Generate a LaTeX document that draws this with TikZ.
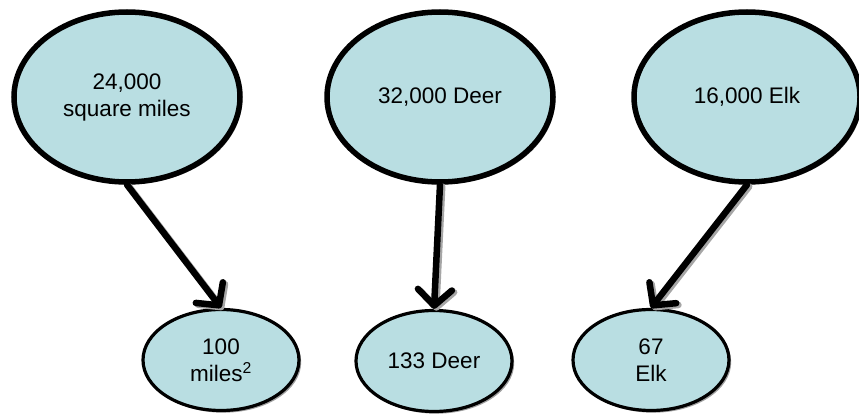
\documentclass[tikz,border=0pt]{standalone}
\usepackage{fontspec}
\setmainfont{Liberation Sans}
\usetikzlibrary{shapes.geometric,arrows.meta,shadows}
\definecolor{nodefill}{HTML}{B9DEE2}
\begin{document}
\begin{tikzpicture}[x=1pt,y=-1pt,
  bubble/.style={ellipse, draw=black, fill=nodefill, inner sep=0pt, align=center,
    font=\fontsize{22.5}{27}\selectfont,
    drop shadow={shadow xshift=2.2pt, shadow yshift=-2.2pt, fill=gray!75, opacity=1}},
  bigbubble/.style={bubble, line width=5.5pt, minimum width=226pt, minimum height=170pt},
  smallbubble/.style={bubble, line width=3.2pt, minimum width=156pt, minimum height=101pt},
  linkbase/.style={line width=6.5pt, line cap=round, line join=round,
    -{Straight Barb[length=16pt, width=34pt, line width=6.5pt, round]}},
  link/.style={linkbase, draw=black},
  linkshadow/.style={linkbase, draw=gray!70, transform canvas={shift={(2.2pt,-1.8pt)}}}
]
\useasboundingbox (0,0) rectangle (859,414);
\node[bigbubble] (b1) at (127,97) {24,000\\square miles};
\node[bigbubble] (b2) at (440,97) {32,000 Deer};
\node[bigbubble] (b3) at (747,97) {16,000 Elk};
\node[smallbubble] (s1) at (221,360) {100\\miles\textsuperscript{2}};
\node[smallbubble] (s2) at (434,361) {133 Deer};
\node[smallbubble] (s3) at (651,360) {67\\Elk};
\draw[linkshadow] (b1.south) -- (s1.north);
\draw[linkshadow] (b2.south) -- (s2.north);
\draw[linkshadow] (b3.south) -- (s3.north);
\draw[link] (b1.south) -- (s1.north);
\draw[link] (b2.south) -- (s2.north);
\draw[link] (b3.south) -- (s3.north);
\end{tikzpicture}
\end{document}
